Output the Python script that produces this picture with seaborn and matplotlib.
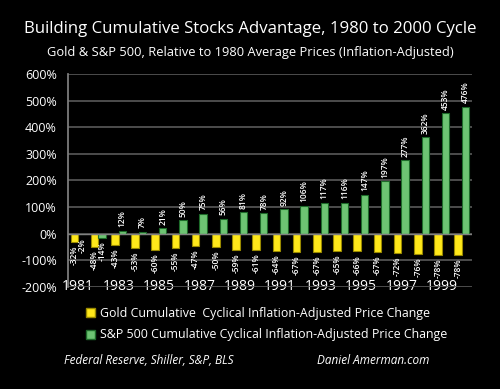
import matplotlib
matplotlib.use("Agg")
import matplotlib.pyplot as plt
import seaborn as sns
import pandas as pd
from matplotlib.patches import Patch

years = [str(y) for y in range(1981, 2001)]
gold = [-32, -48, -43, -53, -60, -55, -47, -50, -59, -61, -64, -67, -67, -65, -66, -67, -72, -76, -78, -78]
spx = [-2, -14, 12, 7, 21, 50, 75, 56, 81, 78, 92, 106, 117, 116, 147, 197, 277, 362, 453, 476]
series_names = ["Gold Cumulative  Cyclical Inflation-Adjusted Price Change",
                "S&P 500 Cumulative Cyclical Inflation-Adjusted Price Change"]
yticks = [-200, -100, 0, 100, 200, 300, 400, 500, 600]

sns.set_theme(style="dark")
plt.rcParams['font.family'] = ['Open Sans', 'DejaVu Sans']

df = pd.DataFrame({
    "year": years * 2,
    "value": gold + spx,
    "series": [series_names[0]] * len(years) + [series_names[1]] * len(years),
})

fig = plt.figure(figsize=(5, 3.89), dpi=100, facecolor="black")
ax = fig.add_axes([0.136, 0.262, 0.808, 0.548])
ax.set_facecolor("black")

colors = {series_names[0]: "#FFE81A", series_names[1]: "#6DC473"}
edges = ["#9A8A00", "#1E6B2A"]
sns.barplot(data=df, x="year", y="value", hue="series", palette=colors,
            width=0.75, ax=ax, legend=False, saturation=1)
for cont, ec in zip(ax.containers, edges):
    for p in cont:
        p.set_edgecolor(ec)
        p.set_linewidth(0.8)
    ax.bar_label(cont, fmt="{:.0f}%", rotation=90, padding=2.5, color="white",
                 fontsize=6, fontweight="semibold")

ax.set_ylim(-200, 600)
ax.set_yticks(yticks)
ax.set_yticklabels([f"{v}%" for v in yticks], color="white", fontsize=9)
ax.set_xlim(-0.5, len(years) - 0.5)
ax.set_xticks(range(0, len(years), 2))
ax.set_xticklabels(years[::2], color="white", fontsize=10)
ax.tick_params(axis="x", length=0, pad=-6)
ax.tick_params(axis="y", length=0, pad=8)
ax.set_xlabel("")
ax.set_ylabel("")
ax.grid(axis="y", color="#5a5a5a", linewidth=1.2)
ax.grid(axis="x", visible=False)
ax.set_axisbelow(True)
for s in ["top", "right", "bottom"]:
    ax.spines[s].set_visible(False)
ax.spines["left"].set_color("#808080")
ax.axhline(0, color="#808080", linewidth=1, zorder=1.5)

fig.text(0.5, 0.925, "Building Cumulative Stocks Advantage, 1980 to 2000 Cycle",
         ha="center", va="center", color="white", fontsize=12.1)
fig.text(0.5, 0.866, "Gold & S&P 500, Relative to 1980 Average Prices (Inflation-Adjusted)",
         ha="center", va="center", color="white", fontsize=9.3)

handles = [Patch(facecolor=colors[n], edgecolor=e, label=n) for n, e in zip(series_names, edges)]
leg = fig.legend(handles=handles, loc="upper left", bbox_to_anchor=(0.15, 0.24),
                 frameon=False, fontsize=8.9, labelcolor="white", handlelength=0.75,
                 handleheight=0.75, handletextpad=0.4, labelspacing=0.7)

fig.text(0.128, 0.073, "Federal Reserve, Shiller, S&P, BLS", ha="left", va="center",
         color="white", fontsize=8.5, style="italic")
fig.text(0.634, 0.073, "Daniel Amerman.com", ha="left", va="center",
         color="white", fontsize=8.5, style="italic")

fig.savefig("out.png", dpi=100, facecolor="black")
